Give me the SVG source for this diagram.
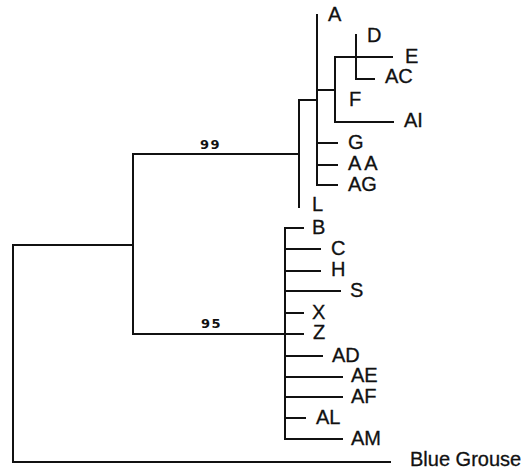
<svg xmlns="http://www.w3.org/2000/svg" width="528" height="471" viewBox="0 0 528 471">
<style>
.e{stroke:#111;stroke-width:2;fill:none;stroke-linecap:square}
.t{font-family:"Liberation Sans",Arial,sans-serif;font-size:20px;fill:#111;stroke:#111;stroke-width:0.3}
.b{font-family:"DejaVu Sans","Liberation Sans",sans-serif;font-size:13px;font-weight:bold;fill:#111;letter-spacing:1.5px}
</style>
<rect width="528" height="471" fill="#fff"/>
<g id="connectors" class="e">
<path d="M13,245V462H390M13,245H133"/>
<path d="M133,154V334M133,154H299M133,334H285"/>
<path d="M299,100V207M299,100H317"/>
<path d="M317,15V185M317,90H335M317,143H337M317,165H337M317,185H337"/>
<path d="M335,57V122M335,57H392M335,122H393"/>
<path d="M356,35V79M356,79H374"/>
<path d="M285,228V439M285,228H303M285,249H320M285,271H320M285,291H340M285,313H303M285,334H303M285,356H322M285,377H342M285,397H342M285,418H305M285,439H342"/>
</g>
<g id="support">
<text class="b" x="200" y="149">99</text>
<text class="b" x="201" y="328">95</text>
</g>
<g id="A"><text class="t" x="328" y="21">A</text></g>
<g id="D"><text class="t" x="367" y="42">D</text></g>
<g id="E"><text class="t" x="405" y="63">E</text></g>
<g id="AC"><text class="t" x="385" y="83">AC</text></g>
<g id="F"><text class="t" x="349" y="106">F</text></g>
<g id="AI"><text class="t" x="404" y="127">AI</text></g>
<g id="G"><text class="t" x="348" y="149">G</text></g>
<g id="AA"><text class="t" x="348" y="170" letter-spacing="3">AA</text></g>
<g id="AG"><text class="t" x="348" y="191">AG</text></g>
<g id="L"><text class="t" x="312" y="211">L</text></g>
<g id="B"><text class="t" x="312" y="234">B</text></g>
<g id="C"><text class="t" x="331" y="255">C</text></g>
<g id="H"><text class="t" x="331" y="276">H</text></g>
<g id="S"><text class="t" x="350" y="297">S</text></g>
<g id="X"><text class="t" x="312" y="319">X</text></g>
<g id="Z"><text class="t" x="313" y="339">Z</text></g>
<g id="AD"><text class="t" x="332" y="362">AD</text></g>
<g id="AE"><text class="t" x="351" y="382">AE</text></g>
<g id="AF"><text class="t" x="351" y="403">AF</text></g>
<g id="AL"><text class="t" x="316" y="424">AL</text></g>
<g id="AM"><text class="t" x="351" y="445">AM</text></g>
<g id="BlueGrouse"><text class="t" x="410" y="466">Blue Grouse</text></g>
</svg>
